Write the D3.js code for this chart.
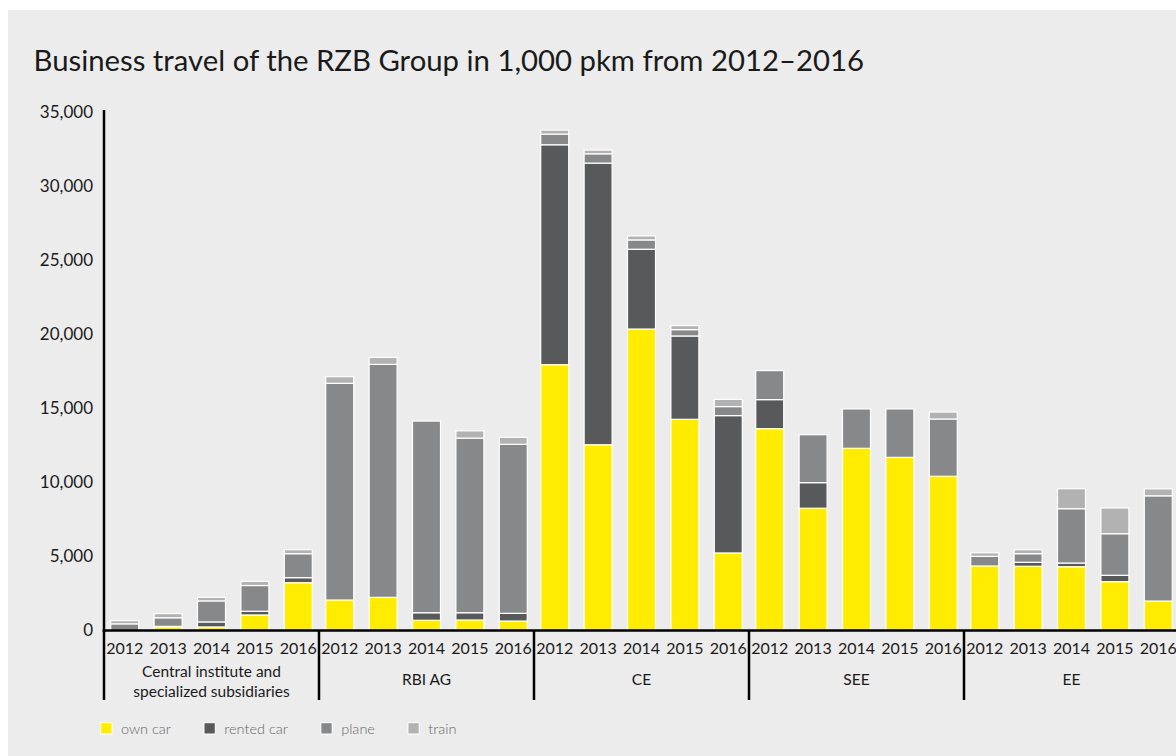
<!DOCTYPE html>
<html>
<head>
<meta charset="utf-8">
<script src="https://cdn.jsdelivr.net/npm/d3@7"></script>
<style>
  html, body { margin: 0; padding: 0; background: #ffffff; overflow: hidden; }
  svg { display: block; }
  text { font-family: Lato, "Noto Sans", sans-serif; }
</style>
</head>
<body>
<svg id="chart" width="1176" height="756"></svg>
<script>
// ---------- DATA (1,000 pkm) ----------
const groups = ["Central institute and|specialized subsidiaries", "RBI AG", "CE", "SEE", "EE"];
const years = ["2012", "2013", "2014", "2015", "2016"];
const seriesNames = ["own car", "rented car", "plane", "train"];
const seriesKeys = ["own", "rented", "plane", "train"];
const yTicks = [0, 5000, 10000, 15000, 20000, 25000, 30000, 35000];

// values per group, years 2012..2016
const ownCar = [
  [0, 250, 240, 1050, 3230],          // Central institute
  [2060, 2240, 690, 710, 640],        // RBI AG
  [17960, 12550, 20370, 14270, 5240], // CE
  [13640, 8260, 12310, 11700, 10420], // SEE
  [4360, 4340, 4310, 3300, 1990]      // EE
];
const rentedCar = [
  [0, 30, 340, 250, 340],
  [0, 0, 510, 490, 520],
  [14860, 19030, 5390, 5630, 9280],
  [1960, 1730, 0, 0, 0],
  [0, 270, 250, 430, 0]
];
const plane = [
  [450, 580, 1420, 1740, 1620],
  [14640, 15740, 12950, 11800, 11420],
  [720, 630, 630, 430, 610],
  [1960, 3240, 2660, 3270, 3870],
  [650, 580, 3670, 2810, 7110]
];
const train = [
  [220, 280, 240, 280, 270],
  [450, 470, 0, 490, 470],
  [270, 250, 270, 270, 490],
  [0, 0, 0, 0, 470],
  [240, 270, 1350, 1740, 470]
];

const colors = ["#ffec00", "#58595b", "#87888a", "#b2b2b2"];

// ---------- BUILD TABLE ----------
const rows = [];
groups.forEach((g, gi) => {
  years.forEach((yr, yi) => {
    rows.push({ group: g, year: yr, own: ownCar[gi][yi], rented: rentedCar[gi][yi], plane: plane[gi][yi], train: train[gi][yi] });
  });
});

// ---------- LAYOUT ----------
const svg = d3.select("#chart");
const W = 1176, H = 756;
const axisX = 104;
const groupW = 215;

svg.append("rect").attr("x", 0).attr("y", 0).attr("width", W).attr("height", H).attr("fill", "#ffffff");
svg.append("rect").attr("x", 8).attr("y", 10).attr("width", W - 8).attr("height", H - 10).attr("fill", "#ececec");

svg.append("text")
  .attr("x", 33.5).attr("y", 71)
  .attr("font-size", 29.3).attr("fill", "#1a1a1a")
  .text("Business travel of the RZB Group in 1,000 pkm from 2012–2016");

const y = d3.scaleLinear().domain([0, 35000]).range([630.5, 112.5]);
const x0 = d3.scaleBand().domain(groups).range([axisX, axisX + groups.length * groupW]).paddingInner(0).paddingOuter(0);
const x1 = d3.scaleBand().domain(years).range([0, x0.bandwidth()]).paddingInner(0.355).paddingOuter(0.155);

const stack = d3.stack().keys(seriesKeys);
const stacked = stack(rows);

const gBars = svg.append("g");
stacked.forEach((layer, si) => {
  gBars.append("g").attr("fill", colors[si])
    .selectAll("rect")
    .data(layer.filter(d => d[1] - d[0] > 0))
    .join("rect")
    .attr("x", d => x0(d.data.group) + x1(d.data.year))
    .attr("width", x1.bandwidth())
    .attr("y", d => y(d[1]))
    .attr("height", d => y(d[0]) - y(d[1]))
    .attr("stroke", "#ffffff")
    .attr("stroke-width", 1.2);
});

// y axis
const yAxis = d3.axisLeft(y).tickValues(yTicks).tickSize(0).tickPadding(11)
  .tickFormat(d3.format(","));
const gy = svg.append("g").attr("transform", `translate(${axisX},0)`).call(yAxis);
gy.select(".domain").remove();
gy.selectAll("text").attr("font-size", 17).attr("fill", "#1a1a1a").attr("font-family", "Lato, sans-serif");
svg.append("line").attr("x1", axisX).attr("x2", axisX).attr("y1", 110).attr("y2", 631.75)
  .attr("stroke", "#000").attr("stroke-width", 2.5);

// x axis baseline
svg.append("line").attr("x1", axisX - 1.25).attr("x2", W).attr("y1", 630.5).attr("y2", 630.5)
  .attr("stroke", "#000").attr("stroke-width", 2.5);

// group dividers
const dividers = groups.map(g => x0(g)).concat([x0.range()[1]]);
svg.append("g").selectAll("line").data(dividers).join("line")
  .attr("x1", d => d).attr("x2", d => d).attr("y1", 630.5).attr("y2", 700)
  .attr("stroke", "#000").attr("stroke-width", 2.5);

// year labels
const gYears = svg.append("g");
groups.forEach(g => {
  const xa = d3.axisBottom(x1).tickSize(0).tickPadding(0);
  const ga = gYears.append("g").attr("transform", `translate(${x0(g)},642)`).call(xa);
  ga.select(".domain").remove();
  ga.selectAll("text").attr("font-size", 16).attr("fill", "#1a1a1a").attr("font-family", "Lato, sans-serif").attr("dy", "0.75em");
});

// group labels
svg.append("g").selectAll("text").data(groups).join("text")
  .attr("x", d => x0(d) + x0.bandwidth() / 2)
  .attr("text-anchor", "middle")
  .attr("font-size", 15.5).attr("fill", "#1a1a1a")
  .each(function(d) {
    const lines = d.split("|");
    const t = d3.select(this);
    if (lines.length === 1) {
      t.attr("y", 685).text(lines[0]);
    } else {
      lines.forEach((l, i) => t.append("tspan").attr("x", x0(d) + x0.bandwidth() / 2).attr("y", 676.5 + i * 20.5).text(l));
    }
  });

// legend
const leg = svg.append("g");
let lx = 100.7;
seriesNames.forEach((name, i) => {
  leg.append("rect").attr("x", lx).attr("y", 722.7).attr("width", 11.3).attr("height", 11.3)
    .attr("fill", colors[i]).attr("stroke", "#ffffff").attr("stroke-width", 1);
  const t = leg.append("text").attr("x", lx + 20.3).attr("y", 734)
    .attr("font-size", 14.5).attr("font-weight", 300).attr("fill", "#666666").text(name);
  lx = lx + 20.3 + t.node().getComputedTextLength() + 33;
});
</script>
</body>
</html>
